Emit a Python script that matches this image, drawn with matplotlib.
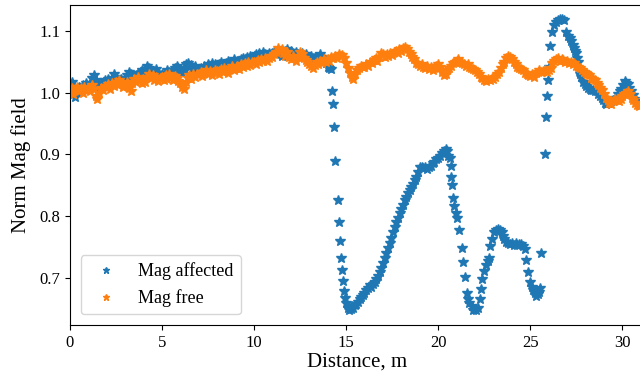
import numpy as np
import matplotlib
matplotlib.use("Agg")
import matplotlib.pyplot as plt

plt.rcParams['font.family'] = ['Liberation Serif', 'DejaVu Serif']
plt.rcParams['font.size'] = 13

# orange series, one row per metre, sampled every 0.1 m
free_y = [
    1.003, 1.008, 0.998, 1.006, 1.010, 1.002, 1.007, 1.000, 1.009, 1.004,
    1.008, 1.003, 1.012, 1.006, 0.995, 0.990, 1.000, 1.008, 1.004, 1.011,
    1.010, 1.014, 1.006, 1.016, 1.011, 1.018, 1.012, 1.020, 1.015, 1.009,
    1.012, 1.018, 1.008, 1.003, 1.015, 1.022, 1.018, 1.025, 1.020, 1.016,
    1.022, 1.018, 1.026, 1.030, 1.024, 1.028, 1.021, 1.026, 1.019, 1.024,
    1.025, 1.020, 1.028, 1.023, 1.030, 1.026, 1.021, 1.027, 1.024, 1.019,
    1.015, 1.010, 1.006, 1.018, 1.024, 1.028, 1.022, 1.030, 1.026, 1.031,
    1.030, 1.034, 1.027, 1.032, 1.036, 1.030, 1.035, 1.028, 1.033, 1.037,
    1.035, 1.031, 1.038, 1.033, 1.040, 1.036, 1.032, 1.039, 1.043, 1.037,
    1.040, 1.044, 1.038, 1.046, 1.041, 1.048, 1.043, 1.050, 1.045, 1.049,
    1.050, 1.046, 1.053, 1.049, 1.055, 1.051, 1.057, 1.052, 1.056, 1.059,
    1.058, 1.062, 1.066, 1.072, 1.068, 1.070, 1.064, 1.060, 1.066, 1.058,
    1.055, 1.060, 1.056, 1.052, 1.058, 1.066, 1.062, 1.056, 1.053, 1.050,
    1.047, 1.043, 1.040, 1.045, 1.050, 1.046, 1.052, 1.048, 1.054, 1.050,
    1.055, 1.052, 1.058, 1.056, 1.060, 1.057, 1.062, 1.059, 1.061, 1.056,
    1.048, 1.040, 1.032, 1.026, 1.022, 1.030, 1.036, 1.040, 1.044, 1.041,
    1.042, 1.046, 1.044, 1.050, 1.048, 1.053, 1.056, 1.052, 1.058, 1.065,
    1.062, 1.058, 1.062, 1.060, 1.064, 1.061, 1.066, 1.068, 1.064, 1.070,
    1.068, 1.072, 1.074, 1.070, 1.066, 1.062, 1.058, 1.054, 1.048, 1.046,
    1.044, 1.046, 1.042, 1.040, 1.044, 1.038, 1.042, 1.036, 1.040, 1.044,
    1.046, 1.042, 1.034, 1.028, 1.030, 1.036, 1.040, 1.044, 1.048, 1.050,
    1.052, 1.054, 1.050, 1.048, 1.046, 1.044, 1.046, 1.042, 1.040, 1.038,
    1.036, 1.034, 1.030, 1.026, 1.024, 1.020, 1.019, 1.022, 1.020, 1.024,
    1.022, 1.026, 1.030, 1.034, 1.040, 1.046, 1.050, 1.056, 1.060, 1.058,
    1.054, 1.050, 1.046, 1.042, 1.040, 1.038, 1.036, 1.032, 1.030, 1.028,
    1.027, 1.030, 1.026, 1.032, 1.034, 1.036, 1.033, 1.035, 1.037, 1.034,
    1.036, 1.040, 1.048, 1.052, 1.054, 1.056, 1.052, 1.055, 1.053, 1.050,
    1.052, 1.048, 1.050, 1.046, 1.048, 1.044, 1.042, 1.040, 1.036, 1.034,
    1.032, 1.030, 1.028, 1.024, 1.022, 1.020, 1.016, 1.012, 1.008, 1.004,
    0.998, 0.992, 0.988, 0.984, 0.982, 0.986, 0.990, 0.988, 0.986, 0.990,
    0.994, 0.998, 1.000, 1.002, 0.998, 0.992, 0.988, 0.984, 0.980, 0.978,
]
free_x = np.arange(len(free_y)) * 0.1

# blue series before the disturbance, every 0.1 m from 0 to 14.2
aff_start_y = [
    1.012, 1.018, 0.998, 0.993, 1.005, 1.010, 1.004, 1.012, 1.008, 1.015,
    1.010, 1.016, 1.024, 1.028, 1.020, 1.014, 1.010, 1.016, 1.012, 1.020,
    1.018, 1.022, 1.016, 1.024, 1.030, 1.026, 1.020, 1.016, 1.022, 1.018,
    1.024, 1.028, 1.033, 1.030, 1.026, 1.022, 1.028, 1.032, 1.030, 1.036,
    1.032, 1.038, 1.044, 1.040, 1.035, 1.030, 1.034, 1.038, 1.032, 1.028,
    1.030, 1.026, 1.032, 1.036, 1.034, 1.030, 1.036, 1.040, 1.044, 1.040,
    1.036, 1.032, 1.040, 1.046, 1.048, 1.042, 1.045, 1.040, 1.043, 1.038,
    1.036, 1.040, 1.038, 1.044, 1.040, 1.046, 1.042, 1.048, 1.044, 1.046,
    1.040, 1.046, 1.050, 1.047, 1.044, 1.048, 1.052, 1.048, 1.050, 1.054,
    1.050, 1.052, 1.048, 1.054, 1.056, 1.052, 1.058, 1.055, 1.060, 1.056,
    1.058, 1.062, 1.060, 1.064, 1.061, 1.066, 1.062, 1.060, 1.064, 1.062,
    1.064, 1.066, 1.062, 1.068, 1.065, 1.060, 1.064, 1.068, 1.070, 1.066,
    1.068, 1.064, 1.062, 1.066, 1.063, 1.060, 1.064, 1.058, 1.062, 1.060,
    1.058, 1.060, 1.056, 1.058, 1.054, 1.058, 1.062, 1.058, 1.054, 1.048,
    1.042, 1.040, 1.038,
]
aff_start_x = np.arange(len(aff_start_y)) * 0.1

# blue series through the disturbed stretch and after it
aff_dist_x = [
    14.24, 14.30, 14.33, 14.42, 14.55, 14.60, 14.66, 14.70, 14.76, 14.81,
    14.88, 14.95, 15.02, 15.10, 15.18, 15.25, 15.32, 15.40, 15.48, 15.56,
    15.65, 15.74, 15.82, 15.90, 16.00, 16.10, 16.20, 16.29, 16.38, 16.47,
    16.56, 16.65, 16.74, 16.83, 16.92, 17.01, 17.10, 17.19, 17.28, 17.37,
    17.46, 17.55, 17.64, 17.73, 17.82, 17.91, 18.00, 18.09, 18.18, 18.28,
    18.37, 18.46, 18.55, 18.64, 18.73, 18.82, 18.91, 19.00, 19.10, 19.20,
    19.30, 19.40, 19.50, 19.60, 19.70, 19.80, 19.90, 20.00, 20.10, 20.20,
    20.30, 20.40, 20.48, 20.56, 20.63, 20.68, 20.72, 20.76, 20.80, 20.85,
    20.95, 21.03, 21.14, 21.30, 21.35, 21.44, 21.54, 21.62, 21.70, 21.81,
    21.90, 22.00, 22.08, 22.17, 22.26, 22.35, 22.40, 22.50, 22.58, 22.68,
    22.76, 22.84, 22.93, 23.02, 23.12, 23.25, 23.34, 23.44, 23.52, 23.60,
    23.70, 23.80, 23.89, 24.00, 24.10, 24.20, 24.30, 24.40, 24.52, 24.60,
    24.70, 24.76, 24.88, 24.97, 25.07, 25.16, 25.24, 25.33, 25.40, 25.46,
    25.52, 25.60, 25.79, 25.85, 25.91, 25.98, 26.02, 26.08, 26.16, 26.28,
    26.38, 26.50, 26.60, 26.72, 26.85, 26.96, 27.05, 27.14, 27.22, 27.30,
    27.36, 27.42, 27.48, 27.54, 27.60, 27.65, 27.70, 27.78, 27.87, 27.96,
    28.05, 28.14, 28.22, 28.32, 28.42, 28.52, 28.60, 28.70, 28.80, 28.87,
    28.96, 29.05, 29.13, 29.22, 29.30, 29.40, 29.50, 29.60, 29.68, 29.78,
    29.86, 29.95, 30.04, 30.13, 30.20, 30.28, 30.38, 30.46, 30.55, 30.64,
    30.74, 30.85, 30.95,
]
aff_dist_y = [
    1.002, 0.982, 0.944, 0.890, 0.826, 0.790, 0.760, 0.733, 0.713, 0.696,
    0.679, 0.668, 0.660, 0.652, 0.648, 0.650, 0.654, 0.652, 0.656, 0.658,
    0.662, 0.666, 0.670, 0.672, 0.676, 0.680, 0.684, 0.688, 0.686, 0.690,
    0.694, 0.698, 0.704, 0.710, 0.716, 0.724, 0.732, 0.740, 0.748, 0.756,
    0.765, 0.774, 0.782, 0.790, 0.798, 0.806, 0.812, 0.818, 0.826, 0.832,
    0.838, 0.843, 0.848, 0.852, 0.858, 0.864, 0.872, 0.880, 0.880, 0.878,
    0.880, 0.877, 0.880, 0.882, 0.886, 0.888, 0.892, 0.895, 0.898, 0.902,
    0.906, 0.909, 0.906, 0.898, 0.895, 0.882, 0.864, 0.850, 0.830, 0.817,
    0.805, 0.797, 0.777, 0.748, 0.726, 0.701, 0.675, 0.666, 0.660, 0.655,
    0.649, 0.650, 0.648, 0.652, 0.666, 0.683, 0.698, 0.711, 0.721, 0.728,
    0.733, 0.752, 0.763, 0.774, 0.778, 0.779, 0.777, 0.774, 0.768, 0.763,
    0.758, 0.756, 0.755, 0.757, 0.754, 0.756, 0.753, 0.755, 0.755, 0.752,
    0.747, 0.730, 0.709, 0.694, 0.686, 0.680, 0.676, 0.671, 0.674, 0.678,
    0.684, 0.740, 0.900, 0.961, 0.994, 1.020, 1.041, 1.075, 1.098, 1.110,
    1.114, 1.118, 1.119, 1.119, 1.117, 1.098, 1.092, 1.088, 1.084, 1.078,
    1.073, 1.068, 1.065, 1.056, 1.049, 1.036, 1.030, 1.025, 1.017, 1.014,
    1.011, 1.008, 1.006, 1.004, 1.005, 1.002, 1.003, 0.998, 0.995, 0.992,
    0.988, 0.984, 0.982, 0.984, 0.983, 0.987, 0.989, 0.990, 0.992, 0.998,
    1.002, 1.006, 1.012, 1.019, 1.016, 1.014, 1.008, 1.002, 0.996, 0.990,
    0.986, 0.982, 0.980,
]

aff_x = np.concatenate([aff_start_x, aff_dist_x])
aff_y = np.concatenate([aff_start_y, aff_dist_y])

fig = plt.figure(figsize=(6.4, 3.79), dpi=100)
ax = fig.add_axes([0.109, 0.1425, 0.898, 0.8443])

ax.plot(aff_x, aff_y, '*', color='#1f77b4', markersize=7.5, label='Mag affected')
ax.plot(free_x, free_y, '*', color='#ff7f0e', markersize=7.5, label='Mag free')

ax.set_xlim(0, 31.2)
ax.set_ylim(0.624, 1.142)
ax.set_xticks([0, 5, 10, 15, 20, 25, 30])
ax.set_yticks([0.7, 0.8, 0.9, 1.0, 1.1])
ax.tick_params(labelsize=12)
ax.set_xlabel('Distance, m', fontsize=15, labelpad=1)
ax.set_ylabel('Norm Mag field', fontsize=15, labelpad=6)

ax.legend(loc='lower left', markerscale=0.6, borderaxespad=0.6)

fig.savefig('out.png', dpi=100)
